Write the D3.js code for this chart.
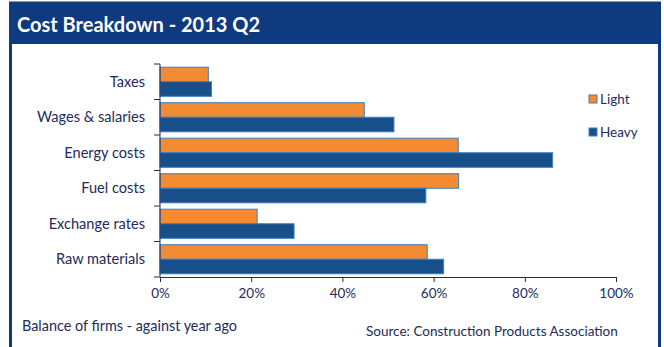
<!DOCTYPE html>
<html>
<head>
<meta charset="utf-8">
<script src="https://cdn.jsdelivr.net/npm/d3@7"></script>
<style>
  html, body { margin: 0; padding: 0; background: #ffffff; }
  svg { display: block; font-family: Lato, "Open Sans", sans-serif; }
</style>
</head>
<body>
<div id="chart"></div>
<script>
"use strict";

/* ── Data ── */
const categories  = ["Taxes", "Wages & salaries", "Energy costs", "Fuel costs", "Exchange rates", "Raw materials"];
const seriesNames = ["Light", "Heavy"];
const lightValues = [10.6, 44.8, 65.4, 65.5, 21.3, 58.6];
const heavyValues = [11.3, 51.3, 86.1, 58.3, 29.4, 62.2];
const tickValues  = [0, 20, 40, 60, 80, 100];

const COLOURS = { Light: "#f28b31", Heavy: "#164f8a" };
const STROKE  = "#3f7fbf";
const NAVY    = "#0f3a7f";
const INK     = "#1e2b5c";

const W = 664, H = 347;

const svg = d3.select("#chart").append("svg")
  .attr("width", W).attr("height", H);

/* ── Frame & title bar ── */
svg.append("rect")
  .attr("x", 10.5).attr("y", 3)
  .attr("width", 649).attr("height", H + 10)
  .attr("fill", "#fff")
  .attr("stroke", NAVY).attr("stroke-width", 3);

svg.append("rect")
  .attr("x", 9).attr("y", 3)
  .attr("width", 652).attr("height", 41)
  .attr("fill", NAVY);

svg.append("text")
  .attr("x", 17).attr("y", 32)
  .attr("fill", "#fff")
  .attr("font-size", "20px")
  .attr("font-weight", "700")
  .text("Cost Breakdown - 2013 Q2");

/* ── Scales ── */
const x = d3.scaleLinear().domain([0, 100]).range([160, 616]);
const y = d3.scaleBand().domain(categories).range([64, 277]).paddingInner(0.18).paddingOuter(0.09);
const ySub = d3.scaleBand().domain(seriesNames).range([0, y.bandwidth()]);

/* ── Bars ── */
const rows = categories.map((c, i) => ({ cat: c, Light: lightValues[i], Heavy: heavyValues[i] }));

const groups = svg.append("g").selectAll("g")
  .data(rows)
  .join("g")
  .attr("transform", d => `translate(0,${y(d.cat)})`);

groups.selectAll("rect")
  .data(d => seriesNames.map(s => ({ s, v: d[s] })))
  .join("rect")
  .attr("x", x(0))
  .attr("y", d => ySub(d.s))
  .attr("width", d => x(d.v) - x(0))
  .attr("height", ySub.bandwidth())
  .attr("fill", d => COLOURS[d.s])
  .attr("stroke", STROKE)
  .attr("stroke-width", 1);

/* ── Axes ── */
const xAxis = svg.append("g")
  .attr("transform", "translate(0,277)")
  .call(d3.axisBottom(x).tickValues(tickValues).tickFormat(d => d + "%").tickSizeOuter(0).tickSize(5));
xAxis.select(".domain").attr("stroke", INK);
xAxis.selectAll(".tick line").attr("stroke", INK);
xAxis.selectAll(".tick text")
  .attr("fill", INK).attr("font-size", "13.5px").attr("dy", "0.95em")
  .attr("font-family", "Lato, sans-serif");

// y axis: ticks at category boundaries
const yStart = 64;
const rowH = (277 - yStart) / categories.length;
const bounds = d3.range(categories.length + 1).map(i => yStart + i * rowH);
const yAxis = svg.append("g");
yAxis.append("line")
  .attr("x1", 160).attr("x2", 160)
  .attr("y1", 64).attr("y2", 277)
  .attr("stroke", INK);
yAxis.selectAll("line.tk")
  .data(bounds)
  .join("line")
  .attr("class", "tk")
  .attr("x1", 154).attr("x2", 160)
  .attr("y1", d => d).attr("y2", d => d)
  .attr("stroke", INK);
yAxis.selectAll("text")
  .data(categories)
  .join("text")
  .attr("x", 145)
  .attr("y", (d, i) => yStart + (i + 0.5) * rowH)
  .attr("dy", "0.35em")
  .attr("text-anchor", "end")
  .attr("fill", INK)
  .attr("font-size", "14.6px")
  .text(d => d);

/* ── Legend ── */
const legend = svg.append("g").attr("transform", "translate(589,95)");
seriesNames.forEach((s, i) => {
  const row = legend.append("g").attr("transform", `translate(0,${i * 33})`);
  row.append("rect")
    .attr("width", 8).attr("height", 8)
    .attr("fill", COLOURS[s])
    .attr("stroke", STROKE);
  row.append("text")
    .attr("x", 11).attr("y", 8.5)
    .attr("fill", INK)
    .attr("font-size", "13.5px")
    .text(s);
});

/* ── Footer ── */
svg.append("text")
  .attr("x", 22).attr("y", 331)
  .attr("fill", INK).attr("font-size", "14.4px")
  .text("Balance of firms - against year ago");

svg.append("text")
  .attr("x", 366).attr("y", 336)
  .attr("fill", INK).attr("font-size", "13.5px")
  .text("Source: Construction Products Association");
</script>
</body>
</html>
